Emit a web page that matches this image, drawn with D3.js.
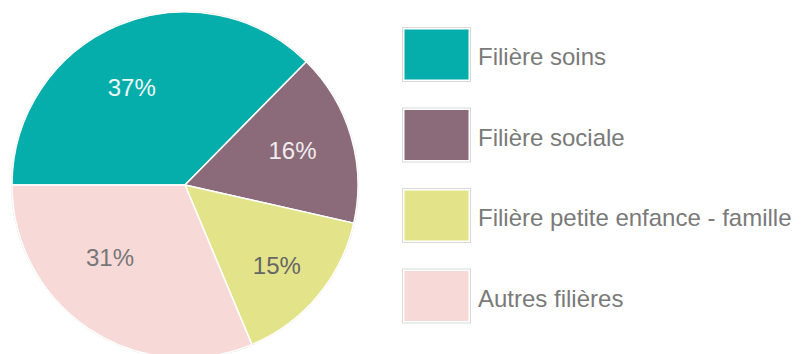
<!DOCTYPE html>
<html>
<head>
<meta charset="utf-8">
<script src="https://cdn.jsdelivr.net/npm/d3@7"></script>
<style>
  html, body { margin: 0; padding: 0; background: #fff; }
  svg { display: block; font-family: "Liberation Sans", Arial, sans-serif; }
</style>
</head>
<body>
<svg id="chart" width="801" height="354"></svg>
<script>
// Répartition par filière (en %)
const categories = ["Filière soins", "Filière sociale", "Filière petite enfance - famille", "Autres filières"];
const values = [37, 16, 15, 31];
const colors = ["#05aeaa", "#8b6a7a", "#e3e48a", "#f7d9d7"];
const labelColors = ["#eef8f7", "#f1ecee", "#666666", "#777777"];

const svg = d3.select("#chart");
const cx = 185, cy = 185, radius = 173;

const pie = d3.pie()
  .sort(null)
  .value(d => d)
  .startAngle(-Math.PI / 2)
  .endAngle(3 * Math.PI / 2);

const arc = d3.arc().innerRadius(0).outerRadius(radius);
const labelArc = d3.arc().innerRadius(112).outerRadius(112);
// small nudges so each percentage sits clear of the slice edges
const labelNudge = [[-10, 6], [0, -3], [6, 9], [-13, -21]];

const g = svg.append("g").attr("transform", `translate(${cx},${cy})`);
const arcs = pie(values);

// Fine grey rim around the disc
g.append("circle").attr("r", radius + 0.5).attr("fill", "none")
  .attr("stroke", "#d6d6d6").attr("stroke-width", 1);

g.selectAll("path.slice")
  .data(arcs)
  .join("path")
  .attr("class", "slice")
  .attr("d", arc)
  .attr("fill", (d, i) => colors[i])
  .attr("stroke", "#ffffff")
  .attr("stroke-width", 1.5)
  .attr("stroke-linejoin", "round");

g.selectAll("text.pct")
  .data(arcs)
  .join("text")
  .attr("class", "pct")
  .attr("transform", (d, i) => {
    const [x, y] = labelArc.centroid(d);
    return `translate(${x + labelNudge[i][0]},${y + labelNudge[i][1]})`;
  })
  .attr("text-anchor", "middle")
  .attr("dy", "0.35em")
  .attr("font-size", 24)
  .attr("fill", (d, i) => labelColors[i])
  .text(d => d.data + "%");

// Legend
const legend = svg.append("g").attr("transform", "translate(402,27)");
const item = legend.selectAll("g.item")
  .data(categories)
  .join("g")
  .attr("class", "item")
  .attr("transform", (d, i) => `translate(0,${i * 80.5})`);

item.append("rect")
  .attr("x", 0.5).attr("y", 0.5)
  .attr("width", 68).attr("height", 54)
  .attr("fill", "#ffffff")
  .attr("stroke", "#d9d9d9")
  .attr("stroke-width", 1);

item.append("rect")
  .attr("x", 2.5).attr("y", 2.5)
  .attr("width", 64).attr("height", 50)
  .attr("fill", (d, i) => colors[i]);

item.append("text")
  .attr("x", 76)
  .attr("y", 30)
  .attr("dy", "0.35em")
  .attr("font-size", 24)
  .attr("fill", "#7a7a7a")
  .text(d => d);
</script>
</body>
</html>
